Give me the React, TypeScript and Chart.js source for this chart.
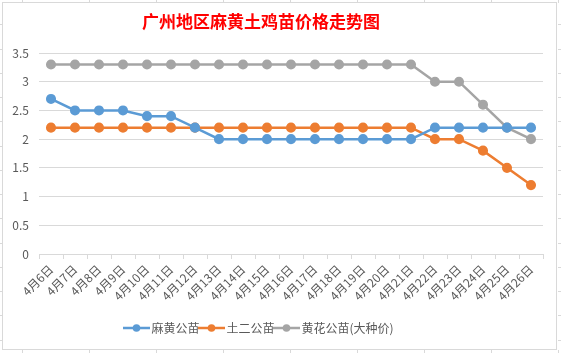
import React, { useEffect, useRef } from "react";
import { Chart, registerables } from "chart.js";

Chart.register(...registerables);

const TITLE = "广州地区麻黄土鸡苗价格走势图";
const categories = [
  "4月6日", "4月7日", "4月8日", "4月9日", "4月10日", "4月11日", "4月12日",
  "4月13日", "4月14日", "4月15日", "4月16日", "4月17日", "4月18日", "4月19日",
  "4月20日", "4月21日", "4月22日", "4月23日", "4月24日", "4月25日", "4月26日",
];
const mahuang = [2.7, 2.5, 2.5, 2.5, 2.4, 2.4, 2.2, 2.0, 2.0, 2.0, 2.0, 2.0, 2.0, 2.0, 2.0, 2.0, 2.2, 2.2, 2.2, 2.2, 2.2];
const tuer = [2.2, 2.2, 2.2, 2.2, 2.2, 2.2, 2.2, 2.2, 2.2, 2.2, 2.2, 2.2, 2.2, 2.2, 2.2, 2.2, 2.0, 2.0, 1.8, 1.5, 1.2];
const huanghua = [3.3, 3.3, 3.3, 3.3, 3.3, 3.3, 3.3, 3.3, 3.3, 3.3, 3.3, 3.3, 3.3, 3.3, 3.3, 3.3, 3.0, 3.0, 2.6, 2.2, 2.0];
const seriesNames = ["麻黄公苗", "土二公苗", "黄花公苗(大种价)"];
const seriesColors = ["#5B9BD5", "#ED7D31", "#A5A5A5"];
const yTicks = [0, 0.5, 1, 1.5, 2, 2.5, 3, 3.5];

const FONT = "'Noto Sans CJK SC', 'Microsoft YaHei', sans-serif";

function legendIcon(color: string): HTMLCanvasElement {
  const c = document.createElement("canvas");
  c.width = 27;
  c.height = 10;
  const g = c.getContext("2d")!;
  g.strokeStyle = color;
  g.lineWidth = 2.5;
  g.beginPath();
  g.moveTo(0, 5);
  g.lineTo(27, 5);
  g.stroke();
  g.fillStyle = color;
  g.beginPath();
  g.arc(13.5, 5, 3.8, 0, Math.PI * 2);
  g.fill();
  return c;
}

const framePlugin = {
  id: "frame",
  afterLayout(chart: any) {
    if (chart.legend) chart.legend.right -= 25;
  },
  beforeDraw(chart: any) {
    const { ctx, width, height } = chart;
    ctx.save();
    ctx.fillStyle = "#ffffff";
    ctx.fillRect(0, 0, width, height);
    ctx.strokeStyle = "#D9D9D9";
    ctx.lineWidth = 1;
    // spreadsheet cell grid peeking around the chart
    ctx.beginPath();
    for (let x = 22; x < width; x += 67) {
      ctx.moveTo(x + 0.5, 0);
      ctx.lineTo(x + 0.5, 3);
      ctx.moveTo(x + 0.5, height - 3);
      ctx.lineTo(x + 0.5, height);
    }
    for (let y = 24.25; y < height; y += 24.25) {
      const yy = Math.round(y) + 0.5;
      ctx.moveTo(0, yy);
      ctx.lineTo(3, yy);
      ctx.moveTo(width - 3, yy);
      ctx.lineTo(width, yy);
    }
    ctx.stroke();
    ctx.strokeRect(2.5, 2.5, width - 5 - 2, height - 5 - 1);
    ctx.restore();
  },
  afterDraw(chart: any) {
    const { ctx } = chart;
    ctx.save();
    ctx.fillStyle = "#FF0000";
    ctx.font = `bold 17px ${FONT}`;
    ctx.textAlign = "center";
    ctx.textBaseline = "middle";
    ctx.fillText(TITLE, 261, 22);
    ctx.restore();
  },
};

export default function App() {
  const ref = useRef<HTMLCanvasElement | null>(null);

  useEffect(() => {
    document.body.style.margin = "0";
    const canvas = ref.current!;
    const datasets = [mahuang, tuer, huanghua].map((d, i) => ({
      label: seriesNames[i],
      data: d,
      borderColor: seriesColors[i],
      backgroundColor: seriesColors[i],
      pointBackgroundColor: seriesColors[i],
      pointBorderColor: seriesColors[i],
      pointRadius: 3.8,
      pointStyle: "circle",
      borderWidth: 2.5,
      tension: 0,
    }));
    const chart = new Chart(canvas, {
      type: "line",
      data: { labels: categories, datasets: datasets as any },
      options: {
        animation: false,
        responsive: false,
        devicePixelRatio: 1,
        layout: { padding: { left: 3, right: 18, top: 53, bottom: 9 } },
        plugins: {
          title: { display: false },
          tooltip: { enabled: false },
          legend: {
            position: "bottom",
            labels: {
              font: { family: FONT, size: 12 },
              color: "#595959",
              usePointStyle: true,
              pointStyleWidth: 18,
              boxHeight: 10,
              padding: 3,
              generateLabels: () =>
                seriesNames.map((n, i) => ({
                  text: n,
                  fillStyle: seriesColors[i],
                  strokeStyle: seriesColors[i],
                  pointStyle: legendIcon(seriesColors[i]) as any,
                  lineWidth: 0,
                  hidden: false,
                  datasetIndex: i,
                  fontColor: "#595959",
                })),
            },
          },
        },
        scales: {
          x: {
            offset: true,
            grid: {
              offset: true,
              drawOnChartArea: false,
              drawTicks: true,
              tickLength: 5,
              color: "#D9D9D9",
            },
            border: { display: true, color: "#D9D9D9", width: 1 },
            ticks: {
              autoSkip: false,
              maxRotation: 45,
              minRotation: 45,
              padding: 3,
              color: "#595959",
              font: { family: FONT, size: 12 },
            },
            afterFit: (s: any) => {
              s.height = 65;
            },
          },
          y: {
            min: 0,
            max: 3.5,
            afterBuildTicks: (s: any) => {
              s.ticks = yTicks.map((v) => ({ value: v }));
            },
            grid: { color: "#D9D9D9", drawTicks: false },
            border: { display: false },
            ticks: {
              padding: 10,
              color: "#595959",
              font: { family: FONT, size: 12 },
              callback: (v: any) => String(v),
            },
            afterFit: (s: any) => {
              s.width = 36;
            },
          },
        },
      },
      plugins: [framePlugin],
    });
    return () => chart.destroy();
  }, []);

  return (
    <div style={{ width: 561, height: 353 }}>
      <canvas ref={ref} width={561} height={353} style={{ display: "block" }} />
    </div>
  );
}
